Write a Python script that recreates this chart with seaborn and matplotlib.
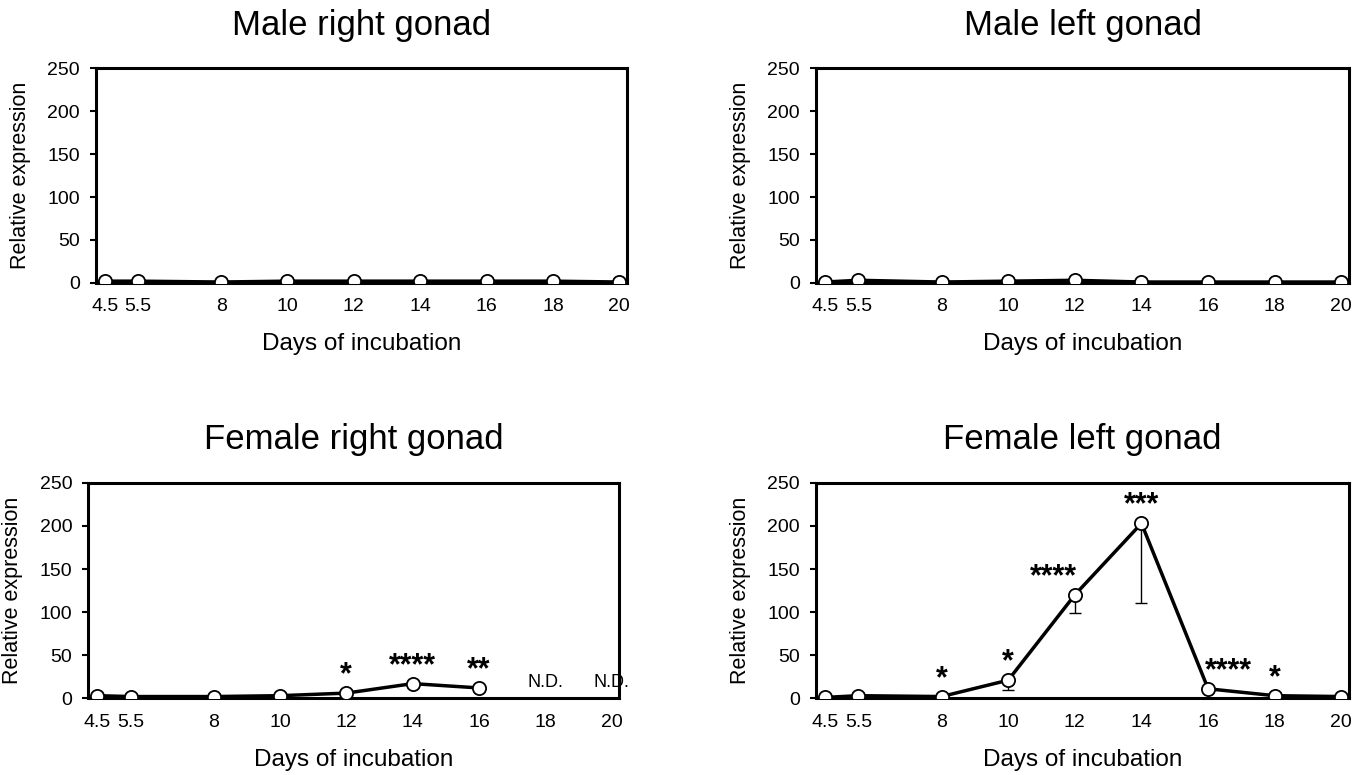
import numpy as np
import pandas as pd
import seaborn as sns
from matplotlib import pyplot as plt

days = [4.5, 5.5, 8, 10, 12, 14, 16, 18, 20]
day_labels = ["4.5", "5.5", "8", "10", "12", "14", "16", "18", "20"]

# mean relative expression and lower error (SD) per panel
male_right = [2, 2, 1, 2, 2, 2, 2, 2, 1]
male_right_err = [2, 2, 1, 2, 2, 2, 2, 2, 1]
male_left = [1, 3, 1, 2, 3, 1, 1, 1, 1]
male_left_err = [1, 2, 1, 2, 2, 1, 1, 1, 1]
female_right = [3, 2, 2, 3, 6, 17, 12, np.nan, np.nan]
female_right_err = [1, 1, 1, 1, 2, 4, 2, np.nan, np.nan]
female_left = [1, 3, 2, 21, 120, 203, 11, 3, 2]
female_left_err = [1, 1, 1, 11, 21, 93, 2, 1, 1]

female_right_stars = ["", "", "", "", "*", "****", "**", "N.D.", "N.D."]
female_left_stars = ["", "", "*", "*", "****", "***", "****", "*", ""]
# horizontal nudge of the star labels (days)
female_left_nudge = [0, 0, 0, 0, -0.63, 0, 0.6, 0, 0]

panels = [
    ("Male right gonad", male_right, male_right_err, None, None),
    ("Male left gonad", male_left, male_left_err, None, None),
    ("Female right gonad", female_right, female_right_err, female_right_stars, None),
    ("Female left gonad", female_left, female_left_err, female_left_stars, female_left_nudge),
]

sns.set_style("white")
plt.rcParams['font.family'] = ['Liberation Sans', 'DejaVu Sans']
for k in ["text.color", "axes.labelcolor", "xtick.color", "ytick.color"]:
    plt.rcParams[k] = "black"

fig = plt.figure(figsize=(13.65, 7.75), dpi=100)
boxes = [
    [0.0703, 0.635, 0.389, 0.277],
    [0.5978, 0.635, 0.3905, 0.277],
    [0.0648, 0.099, 0.389, 0.278],
    [0.5978, 0.099, 0.3905, 0.278],
]

for (title, vals, errs, stars, nudge), box in zip(panels, boxes):
    ax = fig.add_axes(box)
    df = pd.DataFrame({"day": days, "expr": vals, "err": errs})
    ok = df.dropna()
    ax.errorbar(ok["day"], ok["expr"], yerr=[ok["err"], np.zeros(len(ok))],
                fmt="none", ecolor="black", elinewidth=1, capsize=4.5, capthick=1, zorder=2)
    sns.lineplot(data=ok, x="day", y="expr", ax=ax, color="black", linewidth=2.5,
                 marker="o", markersize=9.5, markerfacecolor="white",
                 markeredgecolor="black", markeredgewidth=1.3, zorder=3)
    if stars is not None:
        for i, (d, v, s) in enumerate(zip(days, vals, stars)):
            if not s:
                continue
            if s == "N.D.":
                ax.text(d, 18, s, ha="center", va="center", fontsize=13)
            else:
                dx = nudge[i] if nudge is not None else 0
                ax.text(d + dx, v + 3, s, ha="center", va="bottom", fontsize=22,
                        fontweight="bold")
    ax.set_xlim(4.23, 20.23)
    ax.set_ylim(0, 250)
    ax.set_yticks([0, 50, 100, 150, 200, 250])
    ax.set_xticks(days)
    ax.set_xticklabels(day_labels)
    ax.tick_params(axis="y", direction="out", length=4.5, width=1.5, labelsize=14, pad=7,
                   left=True)
    ax.tick_params(axis="x", length=0, labelsize=14, pad=11)
    for sp in ax.spines.values():
        sp.set_linewidth(2.2)
        sp.set_color("black")
    ax.set_xlabel("Days of incubation", fontsize=17.5, labelpad=13)
    ax.set_ylabel("Relative expression", fontsize=15.5, labelpad=12)
    ax.set_title(title, fontsize=25, pad=24)

fig.savefig("out.png", dpi=100)
